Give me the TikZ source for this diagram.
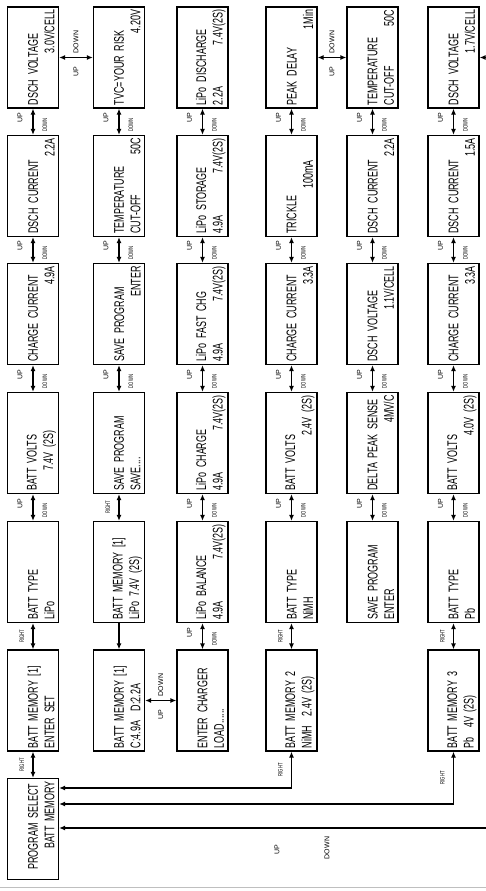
\documentclass[tikz,border=0pt]{standalone}
\usepackage{fontspec}
\newfontfamily\lcdfont{Liberation Sans}[FakeStretch=0.64]
\newfontfamily\keyfont{Liberation Sans}
\usetikzlibrary{arrows.meta}
\newcommand{\rgt}[1]{\hspace*{\fill}#1\hspace*{5pt}}

\begin{document}
\begin{tikzpicture}[
    x=1pt, y=-1pt,
    lcd/.style={draw, line width=1.2pt, rotate=90, minimum width=101pt, minimum height=51pt, text width=95pt, inner xsep=3pt, inner ysep=0pt, align=left, font=\lcdfont\fontsize{14}{16.5}\selectfont, execute at begin node={\hyphenpenalty=10000\rule{0pt}{26.5pt}}},
    link/.style={{Latex[length=6pt,width=5pt]}-{Latex[length=6pt,width=5pt]}, line width=1.3pt},
    oneway/.style={-{Latex[length=6pt,width=5pt]}, line width=1.3pt},
    uplab/.style={xshift=-13pt, yshift=4pt, rotate=90, inner sep=0pt, font=\keyfont\fontsize{7}{8}\selectfont},
    dnlab/.style={xshift=12pt, yshift=-3pt, rotate=90, inner sep=0pt, font=\lcdfont\fontsize{6.5}{7}\selectfont},
    rtlab/.style={xshift=-11pt, rotate=90, inner sep=0pt, font=\lcdfont\fontsize{6.5}{7}\selectfont},
    hup/.style={yshift=-14.5pt, rotate=90, inner sep=0pt, font=\keyfont\fontsize{7}{8}\selectfont},
    hdown/.style={yshift=15.5pt, rotate=90, inner sep=0pt, font=\keyfont\fontsize{7}{8}\selectfont},
    keylab/.style={rotate=90, inner sep=0pt, font=\keyfont\fontsize{7}{8}\selectfont}
]
\useasboundingbox (0,0) rectangle (486,891);
% LiPo settings
\node[lcd] (dschvolt) at (33,57.5) {DSCH VOLTAGE\\\rgt{3.0V/CELL}};
\node[lcd] (dschcurr) at (33,186) {DSCH CURRENT\\\rgt{2.2A}};
\node[lcd] (chgcurr) at (33,314) {CHARGE CURRENT\\\rgt{4.9A}};
\node[lcd] (battvolts) at (33,443) {BATT VOLTS\\\hspace*{20pt}7.4V (2S)};
\node[lcd] (batttype) at (33,572) {BATT TYPE\\LiPo};
\node[lcd] (memset) at (33,700.5) {BATT MEMORY [1]\\ENTER SET};
\node[lcd] (progsel) at (33,829) {\hspace*{7pt}PROGRAM SELECT\\\rgt{BATT MEMORY}};
\node[lcd] (tvc) at (119,57.5) {TVC=YOUR RISK\\\rgt{4.20V}};
\node[lcd] (tempcut) at (119,186) {TEMPERATURE\\CUT-OFF\hfill 50C\hspace*{5pt}};
\node[lcd] (saveenter) at (119,314) {SAVE PROGRAM\\\rgt{ENTER}};
\node[lcd] (savesave) at (119,443) {SAVE PROGRAM\\SAVE....};
\node[lcd] (memlipo) at (119,572) {BATT MEMORY [1]\\LiPo 7.4V (2S)};
\node[lcd] (memvals) at (119,700.5) {BATT MEMORY [1]\\C:4.9A\ \ D:2.2A};
% LiPo programs
\node[lcd] (lipodsch) at (202.5,57.5) {LiPo DISCHARGE\\2.2A\hfill 7.4V(2S)\hspace*{5pt}};
\node[lcd] (lipostore) at (202.5,186) {LiPo STORAGE\\4.9A\hfill 7.4V(2S)\hspace*{5pt}};
\node[lcd] (lipofast) at (202.5,314) {LiPo FAST CHG\\4.9A\hfill 7.4V(2S)\hspace*{5pt}};
\node[lcd] (lipochg) at (202.5,443) {LiPo CHARGE\\4.9A\hfill 7.4V(2S)\hspace*{5pt}};
\node[lcd] (lipobal) at (202.5,572) {LiPo BALANCE\\4.9A\hfill 7.4V(2S)\hspace*{5pt}};
\node[lcd] (enterchg) at (202.5,700.5) {ENTER CHARGER\\LOAD......};
% NiMH memory
\node[lcd] (peakdelay) at (291.5,57.5) {PEAK DELAY\\\rgt{1Min}};
\node[lcd] (trickle) at (291.5,186) {TRICKLE\\\hspace*{45pt}100mA};
\node[lcd] (nimhcurr) at (291.5,314) {CHARGE CURRENT\\\rgt{3.3A}};
\node[lcd] (nimhvolts) at (291.5,443) {BATT VOLTS\\\rgt{2.4V (2S)}};
\node[lcd] (nimhtype) at (291.5,572) {BATT TYPE\\NiMH};
\node[lcd] (mem2) at (291.5,700.5) {BATT MEMORY 2\\NiMH\ \ 2.4V (2S)};
\node[lcd] (nimhtemp) at (372.5,57.5) {TEMPERATURE\\CUT-OFF\hfill 50C\hspace*{5pt}};
\node[lcd] (nimhdsch) at (372.5,186) {DSCH CURRENT\\\rgt{2.2A}};
\node[lcd] (nimhdschv) at (372.5,314) {DSCH VOLTAGE\\\rgt{1.1V/CELL}};
\node[lcd] (deltapeak) at (372.5,443) {DELTA PEAK SENSE\\\rgt{4MV/C}};
\node[lcd] (nimhsave) at (372.5,572) {SAVE PROGRAM\\ENTER};
% Pb memory
\node[lcd] (pbdschv) at (453.5,57.5) {DSCH VOLTAGE\\\rgt{1.7V/CELL}};
\node[lcd] (pbdsch) at (453.5,186) {DSCH CURRENT\\\rgt{1.5A}};
\node[lcd] (pbcurr) at (453.5,314) {CHARGE CURRENT\\\rgt{3.3A}};
\node[lcd] (pbvolts) at (453.5,443) {BATT VOLTS\\\rgt{4.0V (2S)}};
\node[lcd] (pbtype) at (453.5,572) {BATT TYPE\\Pb};
\node[lcd] (mem3) at (453.5,700.5) {BATT MEMORY 3\\Pb\ \ 4V (2S)};
% UP / DOWN steps
\draw[link] (dschvolt) -- node[uplab]{UP} node[dnlab]{DOWN} (dschcurr);
\draw[link] (dschcurr) -- node[uplab]{UP} node[dnlab]{DOWN} (chgcurr);
\draw[link] (chgcurr) -- node[uplab]{UP} node[dnlab]{DOWN} (battvolts);
\draw[link] (battvolts) -- node[uplab]{UP} node[dnlab]{DOWN} (batttype);
\draw[link] (batttype) -- node[rtlab]{RIGHT} (memset);
\draw[link] (memset) -- node[rtlab]{RIGHT} (progsel);
\draw[link] (tvc) -- node[uplab]{UP} node[dnlab]{DOWN} (tempcut);
\draw[link] (tempcut) -- node[uplab]{UP} node[dnlab]{DOWN} (saveenter);
\draw[link] (saveenter) -- node[uplab]{UP} node[dnlab]{DOWN} (savesave);
\draw[link] (savesave) -- node[rtlab]{RIGHT} (memlipo);
\draw[oneway] (memlipo) -- (memvals);
\draw[link] (lipodsch) -- node[uplab]{UP} node[dnlab]{DOWN} (lipostore);
\draw[link] (lipostore) -- node[uplab]{UP} node[dnlab]{DOWN} (lipofast);
\draw[link] (lipofast) -- node[uplab]{UP} node[dnlab]{DOWN} (lipochg);
\draw[link] (lipochg) -- node[uplab]{UP} node[dnlab]{DOWN} (lipobal);
\draw[link] (lipobal) -- node[uplab]{UP} node[dnlab]{DOWN} (enterchg);
\draw[link] (peakdelay) -- node[uplab]{UP} node[dnlab]{DOWN} (trickle);
\draw[link] (trickle) -- node[uplab]{UP} node[dnlab]{DOWN} (nimhcurr);
\draw[link] (nimhcurr) -- node[uplab]{UP} node[dnlab]{DOWN} (nimhvolts);
\draw[link] (nimhvolts) -- node[uplab]{UP} node[dnlab]{DOWN} (nimhtype);
\draw[link] (nimhtype) -- node[rtlab]{RIGHT} (mem2);
\draw[link] (nimhtemp) -- node[uplab]{UP} node[dnlab]{DOWN} (nimhdsch);
\draw[link] (nimhdsch) -- node[uplab]{UP} node[dnlab]{DOWN} (nimhdschv);
\draw[link] (nimhdschv) -- node[uplab]{UP} node[dnlab]{DOWN} (deltapeak);
\draw[link] (deltapeak) -- node[uplab]{UP} node[dnlab]{DOWN} (nimhsave);
\draw[link] (pbdschv) -- node[uplab]{UP} node[dnlab]{DOWN} (pbdsch);
\draw[link] (pbdsch) -- node[uplab]{UP} node[dnlab]{DOWN} (pbcurr);
\draw[link] (pbcurr) -- node[uplab]{UP} node[dnlab]{DOWN} (pbvolts);
\draw[link] (pbvolts) -- node[uplab]{UP} node[dnlab]{DOWN} (pbtype);
\draw[link] (pbtype) -- node[rtlab]{RIGHT} (mem3);
% turns between rows
\draw[link] (dschvolt) -- node[hup]{UP} node[hdown]{DOWN} (tvc);
\draw[link] (memvals) -- node[hup]{UP} node[hdown]{DOWN} (enterchg);
\draw[link] (peakdelay) -- node[hup]{UP} node[hdown]{DOWN} (nimhtemp);
\coordinate (tonext) at (486,57.5);
\draw[oneway] (tonext) -- (pbdschv);
% back to program select
\coordinate (tomem2) at (291.5,788);
\coordinate (tomem3) at (453.5,804);
\coordinate (fromnext) at (486,828);
\draw[link] (progsel.south |- tomem2) -| node[rtlab, pos=0.75]{RIGHT} (mem2);
\draw[link] (progsel.south |- tomem3) -| node[rtlab, pos=0.75]{RIGHT} (mem3);
\draw[oneway] (fromnext) -- (progsel.south |- fromnext);
\node[keylab] (uptxt) at (277,850) {UP};
\node[keylab] (downtxt) at (327,848) {DOWN};
\draw[black!25, line width=1pt] (0,887) -- (486,887);
\end{tikzpicture}
\end{document}
